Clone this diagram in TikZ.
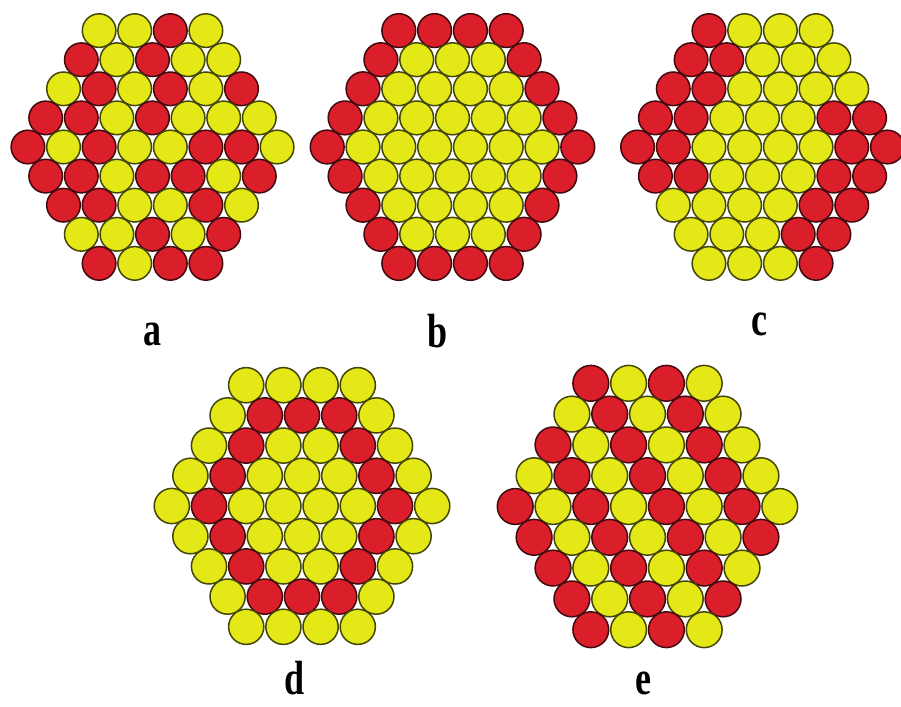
\documentclass[tikz,border=0pt]{standalone}
\usepackage{fontspec}
\usepackage{graphicx}
\setmainfont{Liberation Serif}
\definecolor{rd}{RGB}{218,30,42}
\definecolor{yl}{RGB}{228,232,22}
\begin{document}
\begin{tikzpicture}[x = 1pt, y = -1pt, bead/.style = {line width = 1.5pt}, lbl/.style = {anchor = base, inner sep = 0pt, text depth = 0pt, font = \fontsize{48}{48}\selectfont\bfseries}]
    \useasboundingbox (0, 0) rectangle (901, 706);
    \foreach \cx/\cy/\dx/\dy/\rad/\pat in {
        152.5/147/35.6/29.1/16.8/{{yl,yl,rd,yl},{rd,yl,rd,yl,yl},{yl,rd,yl,rd,yl,rd},{rd,rd,yl,rd,yl,yl,yl},{rd,yl,rd,yl,yl,rd,rd,yl},{rd,rd,yl,rd,rd,yl,rd},{rd,rd,yl,yl,rd,yl},{yl,yl,rd,yl,rd},{rd,yl,rd,rd}},
        452.5/147/35.8/29.1/16.9/{{rd,rd,rd,rd},{rd,yl,yl,yl,rd},{rd,yl,yl,yl,yl,rd},{rd,yl,yl,yl,yl,yl,rd},{rd,yl,yl,yl,yl,yl,yl,rd},{rd,yl,yl,yl,yl,yl,rd},{rd,yl,yl,yl,yl,rd},{rd,yl,yl,yl,rd},{rd,rd,rd,rd}},
        762.5/147/35.7/29.1/16.8/{{rd,yl,yl,yl},{rd,rd,yl,yl,yl},{rd,rd,yl,yl,yl,yl},{rd,rd,yl,yl,yl,rd,rd},{rd,rd,yl,yl,yl,yl,rd,rd},{rd,rd,yl,yl,yl,rd,rd},{yl,yl,yl,yl,rd,rd},{yl,yl,yl,rd,rd},{yl,yl,yl,rd}},
        302/506/37.2/30.2/17.6/{{yl,yl,yl,yl},{yl,rd,rd,rd,yl},{yl,rd,yl,yl,rd,yl},{yl,rd,yl,yl,yl,rd,yl},{yl,rd,yl,yl,yl,yl,rd,yl},{yl,rd,yl,yl,yl,rd,yl},{yl,rd,yl,yl,rd,yl},{yl,rd,rd,rd,yl},{yl,yl,yl,yl}},
        647.5/506.5/37.8/30.8/17.9/{{rd,yl,rd,yl},{yl,rd,yl,rd,yl},{rd,yl,rd,yl,rd,yl},{yl,rd,yl,rd,yl,rd,yl},{rd,yl,rd,yl,rd,yl,rd,yl},{rd,yl,rd,yl,rd,yl,rd},{rd,yl,rd,yl,rd,yl},{rd,yl,rd,yl,rd},{rd,yl,rd,yl}}}{
        \foreach \row [count = \k] in \pat {
            \pgfmathsetmacro{\n}{8 - abs(\k - 5)}
            \foreach \c [count = \i] in \row {
                \pgfmathsetmacro{\xpos}{\cx + (\i - (\n + 1) / 2) * \dx}
                \pgfmathsetmacro{\ypos}{\cy + (\k - 5) * \dy}
                \filldraw[bead, fill = \c, draw = \c!30!black] (\xpos, \ypos) circle (\rad);
            }
        }
    }
    \node[lbl] (labA) at (152, 345) {\scalebox{0.75}[1]{a}};
    \node[lbl] (labB) at (437.5, 347) {\scalebox{0.75}[1]{b}};
    \node[lbl] (labC) at (759, 335) {\scalebox{0.75}[1]{c}};
    \node[lbl] (labD) at (295, 694) {\scalebox{0.75}[1]{d}};
    \node[lbl] (labE) at (643, 694) {\scalebox{0.75}[1]{e}};
\end{tikzpicture}
\end{document}
